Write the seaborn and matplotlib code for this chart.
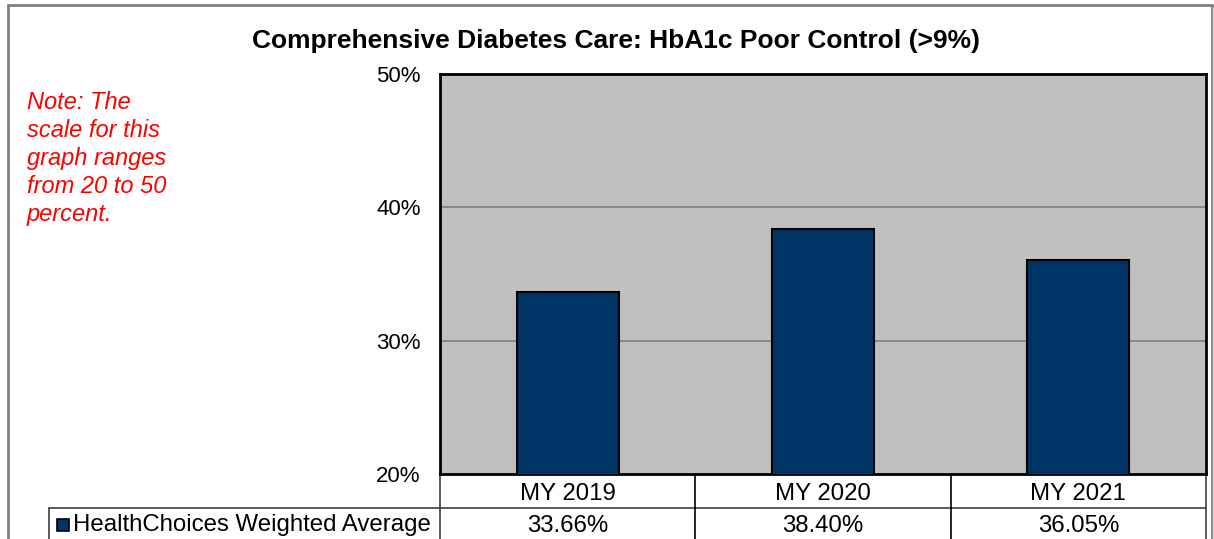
import matplotlib
matplotlib.use("Agg")
import matplotlib.pyplot as plt
import seaborn as sns
import pandas as pd
from matplotlib.lines import Line2D
from matplotlib.patches import Rectangle

categories = ["MY 2019", "MY 2020", "MY 2021"]
values = [33.66, 38.40, 36.05]
value_labels = ["33.66%", "38.40%", "36.05%"]
series_name = "HealthChoices Weighted Average"
title = "Comprehensive Diabetes Care: HbA1c Poor Control (>9%)"
note = "Note: The\nscale for this\ngraph ranges\nfrom 20 to 50\npercent."
yticks = [20, 30, 40, 50]

sns.set_theme(style="white")
plt.rcParams["font.family"] = ["Liberation Sans", "DejaVu Sans"]

W, H = 1214, 539
fig = plt.figure(figsize=(W / 100, H / 100), dpi=100)
fig.patch.set_facecolor("white")

def fx(px):
    return px / W

def fy(py):
    return 1 - py / H

# outer chart frame
for (x0, y0, x1, y1) in [(8, 5, 1212, 5), (8, 5, 8, 545), (1212, 5, 1212, 545)]:
    fig.add_artist(Line2D([fx(x0), fx(x1)], [fy(y0), fy(y1)], color="#7f7f7f", lw=2.0))
fig.add_artist(Line2D([fx(1214), fx(1214)], [fy(8), fy(545)], color="#d9d9d9", lw=2.5))

left, right, top, bottom = 440, 1206, 74, 474
ax = fig.add_axes([fx(left), fy(bottom), fx(right) - fx(left), fy(top) - fy(bottom)])
ax.set_facecolor("#C0C0C0")

df = pd.DataFrame({"cat": categories, "val": values})
sns.barplot(data=df, x="cat", y="val", color="#003366", saturation=1, width=0.4,
            edgecolor="black", linewidth=1.5, ax=ax, zorder=3)

ax.set_ylim(20, 50)
ax.set_xlim(-0.5, len(categories) - 0.5)
ax.set_yticks(yticks)
ax.set_yticklabels([f"{t}%" for t in yticks], fontsize=16, color="black")
ax.tick_params(axis="y", length=0, pad=14)
ax.set_xticks([])
ax.set_xlabel("")
ax.set_ylabel("")
for t in [30, 40]:
    ax.axhline(t, color="#808080", lw=1.2, zorder=1)
for s in ax.spines.values():
    s.set_visible(True)
    s.set_color("black")
    s.set_linewidth(2)

# data table
ptrans = ax.get_xaxis_transform()
row1 = -34 / 400.0
row2 = -80 / 400.0
tcol = "#404040"
ax.plot([-0.5, len(categories) - 0.5], [row1, row1], transform=ptrans, color=tcol, lw=1.2, clip_on=False)
fig.add_artist(Line2D([fx(49), fx(440)], [fy(508), fy(508)], color=tcol, lw=1.2))
fig.add_artist(Line2D([fx(49), fx(49)], [fy(508), fy(545)], color=tcol, lw=1.2))
for xb in [i - 0.5 for i in range(len(categories) + 1)]:
    ax.plot([xb, xb], [0, row2], transform=ptrans, color="black" if 0 < xb < len(categories) - 0.5 else tcol,
            lw=1.2, clip_on=False)
for i, (c, v) in enumerate(zip(categories, value_labels)):
    ax.text(i, -19.5 / 400.0, c, transform=ptrans, ha="center", va="center", fontsize=17.3, color="black")
    ax.text(i, -51.5 / 400.0, v, transform=ptrans, ha="center", va="center", fontsize=17.3, color="black")

# legend key in table
fig.add_artist(Rectangle((fx(57), fy(531)), fx(12), fy(519) - fy(531), facecolor="#003366",
                         edgecolor="black", lw=1.2))
fig.text(fx(73), fy(525), series_name, ha="left", va="center", fontsize=17.3, color="black")

# title
fig.text(fx(615.5), fy(41), title, ha="center", va="center", fontsize=19, fontweight="bold", color="black")

# note
fig.text(fx(27), fy(91), note, ha="left", va="top", fontsize=17, style="italic", color="red",
         linespacing=1.28)

fig.savefig("out.png", dpi=100, facecolor="white")
